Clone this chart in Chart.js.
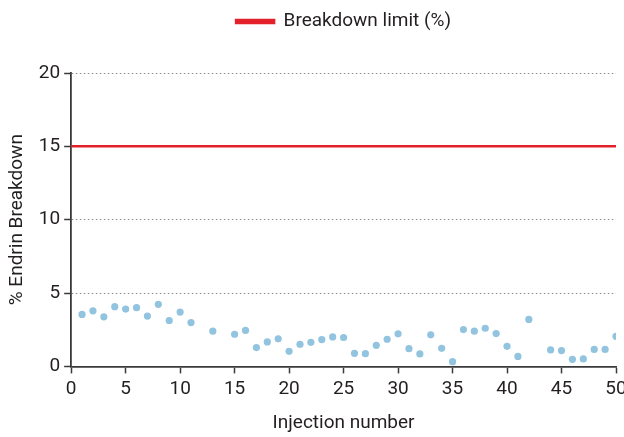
<!DOCTYPE html>
<html>
<head>
<meta charset="utf-8">
<script src="https://cdn.jsdelivr.net/npm/chart.js@4.4.1/dist/chart.umd.min.js"></script>
<style>
  html, body { margin: 0; padding: 0; background: #fff; }
  #wrap { width: 624px; height: 437px; }
</style>
</head>
<body>
<div id="wrap"><canvas id="endrinChart"></canvas></div>
<script>
// Injection numbers (12, 14 and 43 are not in the plot)
const injections = [1, 2, 3, 4, 5, 6, 7, 8, 9, 10, 11, 13, 15, 16, 17, 18, 19, 20,
    21, 22, 23, 24, 25, 26, 27, 28, 29, 30, 31, 32, 33, 34, 35, 36, 37, 38, 39, 40,
    41, 42, 44, 45, 46, 47, 48, 49, 50];
// % Endrin breakdown for each injection
const breakdown = [3.54, 3.79, 3.38, 4.07, 3.91, 4.0, 3.43, 4.23, 3.13, 3.70, 2.99, 2.40, 2.19, 2.45, 1.28, 1.67, 1.88, 1.03,
    1.51, 1.64, 1.83, 2.01, 1.97, 0.89, 0.87, 1.44, 1.85, 2.22, 1.21, 0.85, 2.15, 1.23, 0.32, 2.51, 2.40, 2.60, 2.24, 1.37,
    0.68, 3.20, 1.12, 1.08, 0.48, 0.51, 1.16, 1.16, 2.05];
const breakdownLimit = 15;
const xRange = [0, 50];
const yRange = [0, 20];

const fontFamily = "'Liberation Sans Narrow', 'Roboto', sans-serif";
const textColor = '#231f20';
const axisColor = '#3a3a3a';

const pointsData = injections.map((n, i) => ({ x: n, y: breakdown[i] }));
const limitData = xRange.map(x => ({ x: x, y: breakdownLimit }));

// Add space between the legend and the chart
const legendSpacingPlugin = {
    beforeInit(chart) {
        const originalFit = chart.legend.fit;
        chart.legend.fit = function fit() {
            originalFit.bind(chart.legend)();
            this.height += 32;
        };
    },
    // centre the legend over the plot area instead of the whole canvas
    afterLayout(chart) {
        chart.legend.left = chart.chartArea.left;
        chart.legend.right = chart.chartArea.right;
    }
};

const chart = new Chart(document.getElementById('endrinChart'), {
    type: 'scatter',
    data: {
        datasets: [
            {
                label: 'Breakdown limit (%)',
                type: 'line',
                data: limitData,
                borderColor: '#e3212b',
                backgroundColor: '#e3212b',
                borderWidth: 2.5,
                pointRadius: 0,
                fill: false
            },
            {
                label: 'Endrin breakdown',
                data: pointsData,
                backgroundColor: '#92c4e0',
                borderWidth: 0,
                pointRadius: 3.6,
                pointHoverRadius: 3.6
            }
        ]
    },
    options: {
        responsive: true,
        maintainAspectRatio: false,
        animation: false,
        layout: { padding: { top: 0, left: 6, right: 0, bottom: 0 } },
        plugins: {
            legend: {
                position: 'top',
                labels: {
                    filter: item => item.datasetIndex === 0,
                    boxWidth: 38,
                    boxHeight: 3,
                    padding: 12,
                    color: textColor,
                    font: { family: fontFamily, size: 19 }
                }
            },
            tooltip: { enabled: false }
        },
        scales: {
            x: {
                type: 'linear',
                min: xRange[0],
                max: xRange[1],
                // let the last tick label run to the canvas edge
                afterFit(scale) {
                    scale.paddingRight = 8;
                },
                ticks: {
                    stepSize: 5,
                    color: textColor,
                    padding: 4,
                    font: { family: fontFamily, size: 19 }
                },
                grid: {
                    drawOnChartArea: false,
                    drawTicks: true,
                    tickLength: 7,
                    tickColor: axisColor,
                    tickWidth: 1.5
                },
                border: { color: axisColor, width: 1.8 },
                title: {
                    display: true,
                    text: 'Injection number',
                    color: textColor,
                    padding: { top: 8, bottom: 2 },
                    font: { family: fontFamily, size: 19 }
                }
            },
            y: {
                min: yRange[0],
                max: yRange[1],
                ticks: {
                    stepSize: 5,
                    color: textColor,
                    padding: 4,
                    font: { family: fontFamily, size: 19 }
                },
                grid: {
                    color: '#8a8a8a',
                    lineWidth: 1,
                    tickLength: 7,
                    tickColor: axisColor,
                    tickWidth: 1.5
                },
                border: { color: axisColor, width: 1.8, dash: [1.5, 2.5] },
                title: {
                    display: true,
                    text: '% Endrin Breakdown',
                    color: textColor,
                    padding: { top: 0, bottom: 6 },
                    font: { family: fontFamily, size: 19 }
                }
            }
        }
    },
    plugins: [legendSpacingPlugin]
});
</script>
</body>
</html>
